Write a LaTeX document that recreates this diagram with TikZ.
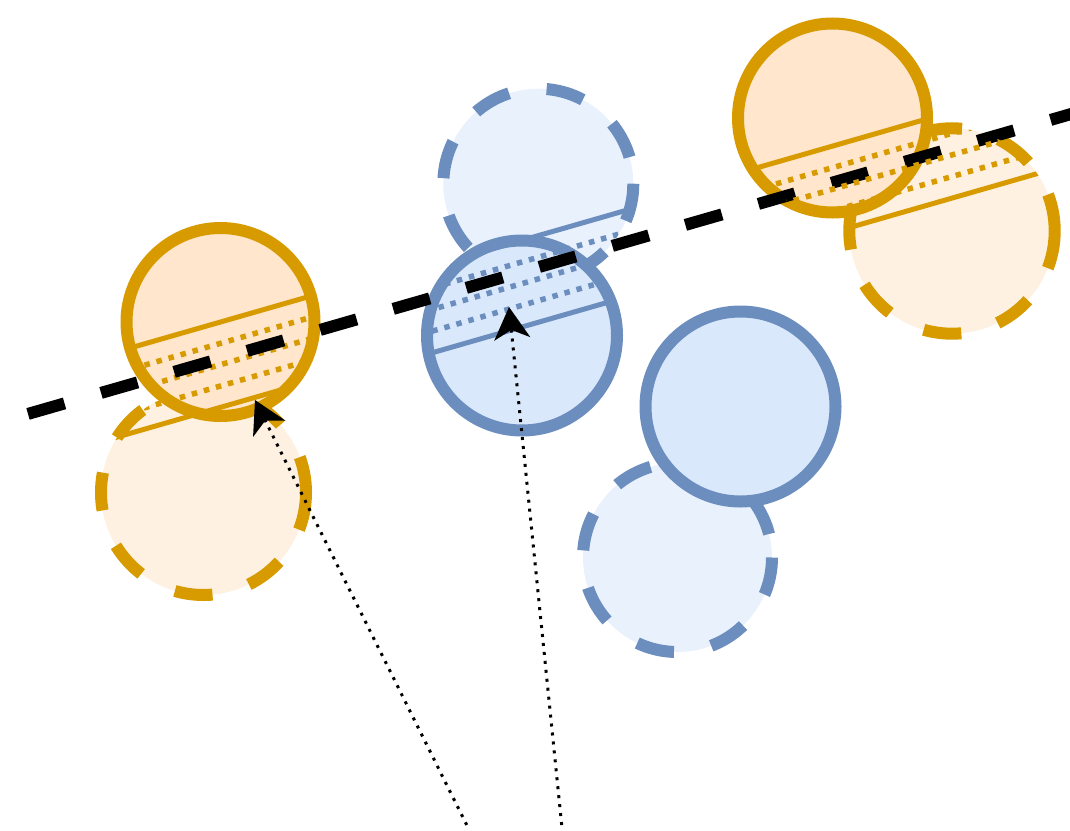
\documentclass[tikz,border=0pt]{standalone}
\usetikzlibrary{arrows.meta}

\definecolor{ornStroke}{HTML}{D79B00}
\definecolor{ornFill}{HTML}{FFE6CC}
\definecolor{ornGhost}{HTML}{FFF1E1}
\definecolor{bluStroke}{HTML}{6C8EBF}
\definecolor{bluFill}{HTML}{DAE8FC}
\definecolor{bluGhost}{HTML}{E9F1FD}

\tikzset{
  body/.style={line width=12pt},
  ghost/.style={line width=12pt, dash pattern=on 38pt off 38pt},
  chordline/.style={line width=5pt},
  hatchline/.style={line width=5.5pt, dash pattern=on 5.5pt off 7pt},
  axisline/.style={line width=12pt, dash pattern=on 38pt off 38pt},
  pointer/.style={line width=3pt, dash pattern=on 3pt off 6pt,
    -{Stealth[length=32pt,width=36pt,inset=9pt]}},
}

\begin{document}
\begin{tikzpicture}[x=1pt,y=-1pt]
\useasboundingbox (0,0) rectangle (1070,830);

% centres of the solid discs and of their dashed copies
\coordinate (sA) at (220.5,322);
\coordinate (dA) at (203.5,492.5);
\coordinate (sB) at (522,335.5);
\coordinate (dB) at (538.3,183.7);
\coordinate (sE) at (740.5,406.5);
\coordinate (dE) at (677.5,557.5);
\coordinate (sC) at (832.5,118);
\coordinate (dC) at (952,231);

% dashed copies
\draw[ghost, draw=ornStroke, fill=ornGhost] (dA) circle[radius=102.5];
\draw[ghost, draw=bluStroke, fill=bluGhost] (dB) circle[radius=95];
\draw[ghost, draw=bluStroke, fill=bluGhost] (dE) circle[radius=94.5];
\draw[ghost, draw=ornStroke, fill=ornGhost] (dC) circle[radius=102.7];

% solid discs
\draw[body, draw=ornStroke, fill=ornFill] (sA) circle[radius=94];
\draw[body, draw=bluStroke, fill=bluFill] (sB) circle[radius=95];
\draw[body, draw=bluStroke, fill=bluFill] (sE) circle[radius=95];
\draw[body, draw=ornStroke, fill=ornFill] (sC) circle[radius=94.5];

% band between the two chords of the left orange pair
\begin{scope}
  \clip (sA) circle[radius=94] (dA) circle[radius=102.5];
  \begin{scope}[shift={(sA)}, rotate=16.04]
    \draw[chordline, ornStroke] (-260,0) -- (260,0);
    \draw[hatchline, ornStroke] (-260,20.5) -- (260,20.5);
    \draw[hatchline, ornStroke] (-260,41) -- (260,41);
    \draw[hatchline, ornStroke] (-260,61.5) -- (260,61.5);
    \draw[chordline, ornStroke] (-260,82) -- (260,82);
  \end{scope}
\end{scope}

% band of the upper blue pair
\begin{scope}
  \clip (sB) circle[radius=95] (dB) circle[radius=95];
  \begin{scope}[shift={(sB)}, rotate=16.04]
    \draw[chordline, bluStroke] (-260,-8.2) -- (260,-8.2);
    \draw[hatchline, bluStroke] (-260,-29) -- (260,-29);
    \draw[hatchline, bluStroke] (-260,-49.9) -- (260,-49.9);
    \draw[hatchline, bluStroke] (-260,-70.7) -- (260,-70.7);
    \draw[chordline, bluStroke] (-260,-91.5) -- (260,-91.5);
  \end{scope}
\end{scope}

% dashed axis
\coordinate (ax0) at (28,413.9);
\coordinate (ax1) at (1094.8,107.2);
\draw[axisline] (ax0) -- (ax1);

% band of the right orange pair
\begin{scope}
  \clip (sC) circle[radius=94.5] (dC) circle[radius=102.7];
  \begin{scope}[shift={(sC)}, rotate=16.04]
    \draw[chordline, ornStroke] (-260,27) -- (260,27);
    \draw[hatchline, ornStroke] (-260,47.75) -- (260,47.75);
    \draw[hatchline, ornStroke] (-260,68.5) -- (260,68.5);
    \draw[hatchline, ornStroke] (-260,89.25) -- (260,89.25);
    \draw[chordline, ornStroke] (-260,110) -- (260,110);
  \end{scope}
\end{scope}

% dotted pointers
\coordinate (p1s) at (466.7,825);
\coordinate (p1t) at (255,400);
\coordinate (p2s) at (561.7,825);
\coordinate (p2t) at (509,307);
\draw[pointer] (p1s) -- (p1t);
\draw[pointer] (p2s) -- (p2t);
\end{tikzpicture}
\end{document}
